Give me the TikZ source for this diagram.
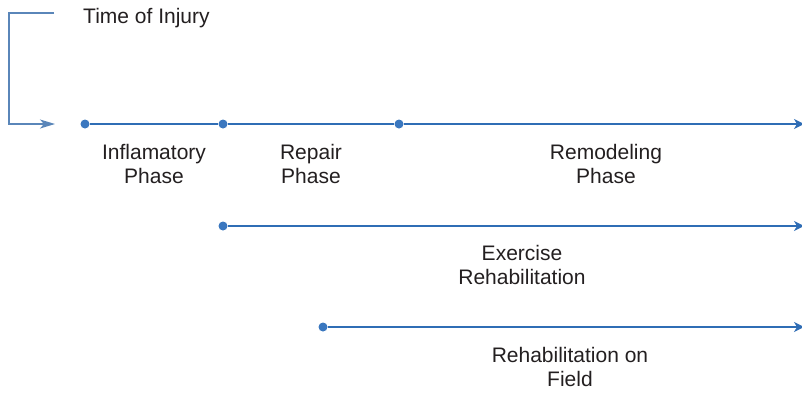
\documentclass[tikz,border=0pt]{standalone}
\usepackage{fontspec}
\setmainfont{Liberation Sans}
\usetikzlibrary{arrows.meta}
\definecolor{lineblue}{HTML}{2F6DB5}
\definecolor{dotblue}{HTML}{3A77BF}
\definecolor{brk}{HTML}{5A86B9}
\definecolor{txt}{HTML}{231F20}
\begin{document}
\begin{tikzpicture}[x=1bp,y=-1bp,
  dotnode/.style={circle,fill=dotblue,inner sep=0pt,minimum size=9bp},
  tl/.style={draw=lineblue,line width=1.4bp,-{Stealth[length=10bp,width=10bp,inset=3bp]}},
  brkline/.style={draw=brk,line width=1.2bp},
  lbl/.style={font=\fontsize{21bp}{24bp}\selectfont,align=center,text=txt,inner sep=0pt}]
\useasboundingbox (0,0) rectangle (802,392);
% bracket
\coordinate (bs) at (54,13);
\coordinate (bc1) at (9,13);
\coordinate (bc2) at (9,124);
\coordinate (be) at (55,124);
\draw[brkline,-{Stealth[length=15bp,width=9bp,inset=4bp]}] (bs) -- (bc1) -- (bc2) -- (be);
\node[lbl,anchor=base west] (toi) at (83,23) {Time of Injury};
% dots
\node[dotnode] (d1) at (85,124) {};
\node[dotnode] (d2) at (223,124) {};
\node[dotnode] (d3) at (399,124) {};
\node[dotnode] (d4) at (223,226) {};
\node[dotnode] (d5) at (323,327) {};
\coordinate (e1) at (804,124);
\coordinate (e2) at (804,226);
\coordinate (e3) at (804,327);
% lines
\draw[draw=lineblue,line width=1.4bp] (d1) -- (d2);
\draw[draw=lineblue,line width=1.4bp] (d2) -- (d3);
\draw[tl] (d3) -- (e1);
\draw[tl] (d4) -- (e2);
\draw[tl] (d5) -- (e3);
% labels
\node[lbl] (l1) at (154,164) {Inflamatory\\Phase};
\node[lbl] (l2) at (311,164) {Repair\\Phase};
\node[lbl] (l3) at (606,164) {Remodeling\\Phase};
\node[lbl] (l4) at (522,265) {Exercise\\Rehabilitation};
\node[lbl] (l5) at (570,367) {Rehabilitation on\\Field};
\end{tikzpicture}
\end{document}
